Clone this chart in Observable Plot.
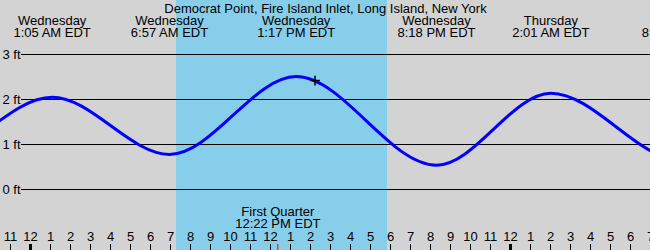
<!DOCTYPE html>
<html><head><meta charset="utf-8">
<script src="https://cdn.jsdelivr.net/npm/d3@7"></script>
<script src="https://cdn.jsdelivr.net/npm/@observablehq/plot@0.6"></script>
<style>html,body{margin:0;padding:0;overflow:hidden;background:#d3d3d3}</style>
</head><body><div id="chart"></div>
<script>
const title = "Democrat Point, Fire Island Inlet, Long Island, New York";
// tide extremes: hours after Wednesday 00:00 EDT, height in feet
const tideHours = [-11.6, -5.4, 1.083, 6.95, 13.283, 20.3, 26.017, 32.5, 38.8];
const tideFeet = [2.3, 0.6, 2.05, 0.78, 2.51, 0.54, 2.14, 0.66, 2.4];
// labelled events (top)
const eventHours = [1.083, 6.95, 13.283, 20.3, 26.017, 32.5];
const eventDays = ["Wednesday", "Wednesday", "Wednesday", "Wednesday", "Thursday", "Thursday"];
const eventTimes = ["1:05 AM EDT", "6:57 AM EDT", "1:17 PM EDT", "8:18 PM EDT", "2:01 AM EDT", "8:30 AM EDT"];
// daylight
const sunriseHour = 7.3, sunsetHour = 17.85;
// current time marker
const nowHour = 14.225, nowFeet = 2.42;
// moon phase
const moonHour = 12.367, moonName = "First Quarter", moonTime = "12:22 PM EDT";
// hour ticks
const hourTicks = [-1,0,1,2,3,4,5,6,7,8,9,10,11,12,13,14,15,16,17,18,19,20,21,22,23,24,25,26,27,28,29,30,31];
const hourLabels = ["11","12","1","2","3","4","5","6","7","8","9","10","11","12","1","2","3","4","5","6","7","8","9","10","11","12","1","2","3","4","5","6","7"];
const midnightHours = [0, 24];
const feetTicks = [0, 1, 2, 3];
const feetLabels = ["0 ft", "1 ft", "2 ft", "3 ft"];

const tide = tideHours.map((h, i) => ({h, ft: tideFeet[i]}));
const events = eventHours.map((h, i) => ({h, day: eventDays[i], time: eventTimes[i]}));
const hours = hourTicks.map((h, i) => ({h, label: hourLabels[i]}));

const fs = 13;
const topText = {frameAnchor: "top", lineAnchor: "middle", fill: "black"};
const chart = Plot.plot({
  width: 650, height: 250, margin: 0,
  x: {domain: [-1.5, 31], range: [0, 650], axis: null},
  y: {domain: [0, 3], range: [189, 54], axis: null},
  style: {background: "#d3d3d3", fontFamily: "'Liberation Sans', Arial, sans-serif", fontSize: fs + "px", color: "black"},
  marks: [
    Plot.rect([{a: sunriseHour, b: sunsetHour}], {x1: "a", x2: "b", fill: "#87ceeb"}),
    Plot.ruleY(feetTicks, {y: d => d, stroke: "black", strokeWidth: 1, insetLeft: 21}),
    Plot.text(feetTicks, {y: d => d, text: (d, i) => feetLabels[i], frameAnchor: "left", lineAnchor: "middle", textAnchor: "start", dx: 2, fill: "black"}),
    Plot.line(tide, {x: "h", y: "ft", curve: "monotone-x", stroke: "#0000ff", strokeWidth: 3, clip: true}),
    Plot.dot([{h: nowHour, ft: nowFeet}], {x: "h", y: "ft", symbol: "plus", r: 3.2, stroke: "black", strokeWidth: 1.5}),
    Plot.text([title], {text: d => d, ...topText, dy: 8}),
    Plot.text(events, {x: "h", text: "day", ...topText, dy: 20}),
    Plot.text(events, {x: "h", text: "time", ...topText, dy: 32}),
    Plot.text([moonHour], {x: d => d, text: () => moonName, ...topText, dy: 211}),
    Plot.text([moonHour], {x: d => d, text: () => moonTime, ...topText, dy: 223}),
    Plot.ruleX(hours, {x: "h", stroke: "black", strokeWidth: 1, insetTop: 244}),
    Plot.ruleX(midnightHours, {x: d => d, stroke: "black", strokeWidth: 3, insetTop: 244}),
    Plot.ruleX([moonHour], {x: d => d, stroke: "red", strokeWidth: 1, insetTop: 244}),
    Plot.text(hours, {x: "h", text: "label", ...topText, dy: 236})
  ]
});
document.getElementById("chart").appendChild(chart);
</script>
</body></html>
